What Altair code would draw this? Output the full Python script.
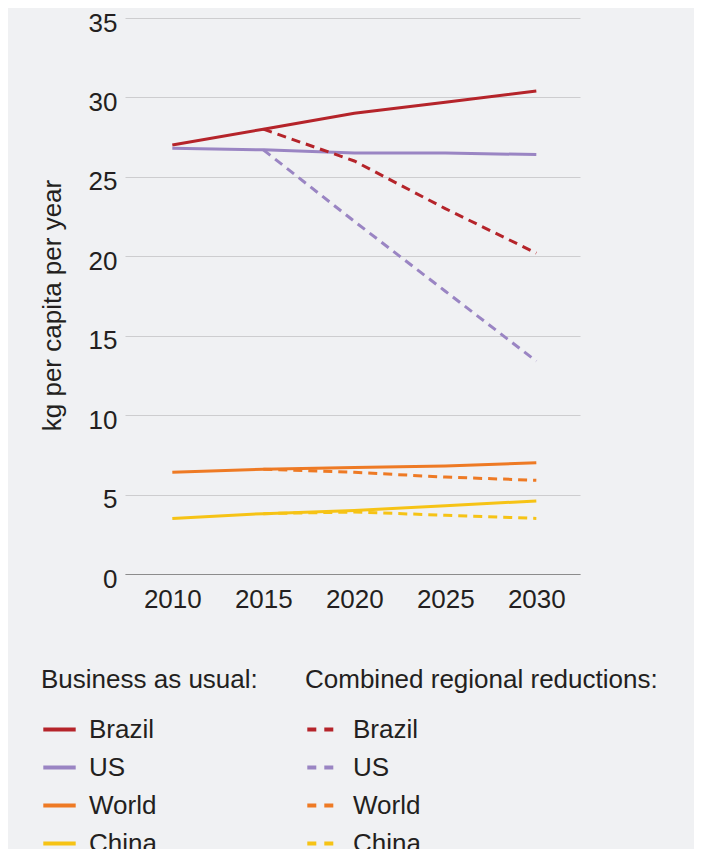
import altair as alt
import pandas as pd

years = [2010, 2015, 2020, 2025, 2030]
regions = ["Brazil", "US", "World", "China"]
colors = ["#b5242a", "#9a85c3", "#ee7a24", "#f6c315"]

bau_brazil = [27.0, 28.0, 29.0, 29.7, 30.4]
bau_us = [26.8, 26.7, 26.5, 26.5, 26.4]
bau_world = [6.4, 6.6, 6.7, 6.8, 7.0]
bau_china = [3.5, 3.8, 4.0, 4.3, 4.6]

red_years = [2015, 2020, 2025, 2030]
red_brazil = [28.0, 26.0, 23.0, 20.2]
red_us = [26.7, 22.2, 17.8, 13.4]
red_world = [6.6, 6.4, 6.1, 5.9]
red_china = [3.8, 3.9, 3.7, 3.5]

bau_rows = []
for name, vals in zip(regions, [bau_brazil, bau_us, bau_world, bau_china]):
    for y, v in zip(years, vals):
        bau_rows.append({"year": y, "value": v, "region": name})
red_rows = []
for name, vals in zip(regions, [red_brazil, red_us, red_world, red_china]):
    for y, v in zip(red_years, vals):
        red_rows.append({"year": y, "value": v, "region": name})

bau_df = pd.DataFrame(bau_rows)
red_df = pd.DataFrame(red_rows)

FONT = "Liberation Sans"
TXT = "#231f20"
FS = 26

x_enc = alt.X(
    "year:Q",
    scale=alt.Scale(domain=[2007.4, 2032.4], nice=False, zero=False),
    axis=alt.Axis(
        values=years, format="d", title=None, grid=False, ticks=False,
        domain=True, domainColor="#8c8c8c", domainWidth=1.2,
        labelFontSize=FS, labelColor=TXT, labelFont=FONT, labelPadding=12,
    ),
)
y_enc = alt.Y(
    "value:Q",
    scale=alt.Scale(domain=[0, 35], nice=False),
    axis=alt.Axis(
        values=[0, 5, 10, 15, 20, 25, 30, 35], title="kg per capita per year",
        grid=True, gridColor="#cdcdcf", gridWidth=1.2, ticks=False, domain=False,
        labelFontSize=FS, labelColor=TXT, labelFont=FONT, labelPadding=8, labelOffset=5,
        titleFontSize=FS, titleFont=FONT, titleColor=TXT, titleFontWeight="normal",
        titleAngle=-90, titleX=-73, titleY=287, titleAlign="center", titleBaseline="middle",
    ),
)

legend_common = dict(
    orient="none", direction="vertical", symbolType="stroke", symbolSize=1050,
    symbolStrokeWidth=4, labelFontSize=FS, labelFont=FONT, labelColor=TXT,
    titleFontSize=FS, titleFont=FONT, titleColor=TXT, titleFontWeight="normal",
    titlePadding=18, rowPadding=6, labelOffset=11, titleLimit=500,
)

bau = alt.Chart(bau_df).mark_line(strokeWidth=3).encode(
    x=x_enc, y=y_enc,
    color=alt.Color(
        "region:N",
        scale=alt.Scale(domain=regions, range=colors),
        legend=alt.Legend(title="Business as usual:", legendX=-84, legendY=649, **legend_common),
    ),
)

red = alt.Chart(red_df).mark_line(strokeWidth=3, strokeDash=[9, 6]).encode(
    x="year:Q", y="value:Q",
    color=alt.Color(
        "region:N",
        scale=alt.Scale(domain=regions, range=colors),
        legend=alt.Legend(title="Combined regional reductions:", legendX=180, legendY=649,
                          symbolDash=[9, 8], **legend_common),
    ),
)

chart = (
    alt.layer(bau, red)
    .resolve_scale(color="independent")
    .properties(
        width=455, height=556,
        autosize=alt.AutoSizeParams(type="none"),
        padding={"left": 117, "top": 10, "right": 114, "bottom": 275},
        background="#f0f1f3",
    )
    .configure_view(stroke=None)
)

chart.save("out.html", embed_options={"renderer": "svg", "actions": False})
